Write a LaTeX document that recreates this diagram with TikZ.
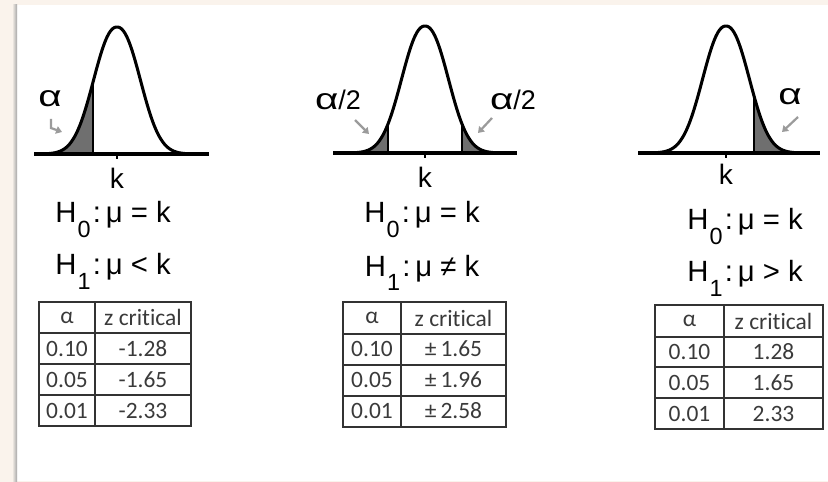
\documentclass[tikz,border=0pt]{standalone}
\usepackage{fontspec}
\usepackage{graphicx}
\setmainfont{Liberation Sans}
\newfontfamily\tabfont[Ligatures=CommonOff]{Carlito}
\usetikzlibrary{arrows.meta}

\definecolor{paper}{HTML}{FAF3EC}
\definecolor{tailfill}{HTML}{6F6F6F}
\definecolor{arrowgray}{HTML}{9B9B9B}
\definecolor{rulegray}{HTML}{333333}
\definecolor{ink}{HTML}{3A3A3A}

% height of the bell at #1
\newcommand{\bellh}[1]{-127*exp(-(((abs(#1)+0.01)/31)^2.2))}
\newcommand{\hsub}[1]{\kern1pt\raisebox{-12pt}{\fontsize{20}{20}\selectfont #1}\kern2pt}
\newcommand{\wide}[1]{\scalebox{1.5}[1.1]{#1}}
\newcommand{\hyptext}[1]{H\hsub{#1}:\hspace{4pt}μ\hspace{7pt}}

\begin{document}
\begin{tikzpicture}[
            x=0.03cm, y=-0.03cm,
            axis/.style={
                line width=2.6pt
            },
            bell/.style={
                line width=2.6pt, line join=round
            },
            tail/.style={
                fill=tailfill
            },
            cutline/.style={
                line width=1.9pt
            },
            hint/.style={
                arrowgray, line width=1.9pt, -{Triangle[length=5pt,width=6.5pt]}
            },
            lbl/.style={
                font=\fontsize{24}{26}\selectfont, inner sep=0pt
            },
            greek/.style={
                font=\fontsize{23}{25}\selectfont, inner sep=0pt
            },
            hyp/.style={
                font=\fontsize{25}{27}\selectfont, inner sep=0pt, anchor=base
            },
            cell/.style={
                font=\tabfont\fontsize{20}{22}\selectfont, text=ink, inner sep=0pt
            },
            tabline/.style={
                rulegray, line width=1.3pt
            }
        ]
        \useasboundingbox (0,0) rectangle (828,482);
        \fill[paper] (0,0) rectangle (828,482);
        \fill[white] (17,5) rectangle (828,481);
        \shade[left color=paper, right color=black!35] (12,5) rectangle (17,481);

        % one-sided, lower tail
        \begin{scope}[shift={(117,154)}]
            \fill[tail] plot[domain=-80:-24, samples=40] (\x, {\bellh{\x}}) -- (-24,0) -- cycle;
            \draw[axis] (-83,0) -- (92,0);
            \draw[bell] plot[domain=-80:80, samples=90, smooth] (\x, {\bellh{\x}});
            \draw[cutline] (-24,0) -- (-24,{\bellh{-24}});
            \draw[line width=1pt] (0,0) -- (0,5);
            \node[lbl] (kl) at (0,24) {k};
            \node[greek] (al) at (-67,-55) {\wide{α}};
            \draw[hint] (-66,-35) -- (-66,-26) -- (-55,-22);
            \node[hyp] (h0l) at (-4,69) {\hyptext{0}= k};
            \node[hyp] (h1l) at (-4,121) {\hyptext{1}< k};

            \draw[tabline] (-78,148) rectangle (74,272);
            \draw[tabline] (-22,148) -- (-22,272);
            \foreach \y in {179,210,241}
                \draw[tabline] (-78,\y) -- (74,\y);
            \node[cell] (lha) at (-50,163.5) {α};
            \node[cell] (lhz) at (26,163.5) {z critical};
            \foreach \a/\z [count=\i] in {0.10/-1.28, 0.05/-1.65, 0.01/-2.33} {
                \node[cell] (la\i) at (-50,{163.5+31*\i}) {\a};
                \node[cell] (lz\i) at (26,{163.5+31*\i}) {\z};
            }
        \end{scope}

        % two-sided
        \begin{scope}[shift={(425,153)}]
            \fill[tail] plot[domain=-80:-37, samples=30] (\x, {\bellh{\x}}) -- (-37,0) -- cycle;
            \fill[tail] plot[domain=37:80, samples=30] (\x, {\bellh{\x}}) -- (80,0) -- (37,0) -- cycle;
            \draw[axis] (-92,0) -- (92,0);
            \draw[bell] plot[domain=-80:80, samples=90, smooth] (\x, {\bellh{\x}});
            \draw[cutline] (-37,0) -- (-37,{\bellh{-37}});
            \draw[cutline] (37,0) -- (37,{\bellh{37}});
            \draw[line width=1pt] (0,0) -- (0,5);
            \node[lbl] (km) at (0,24) {k};
            \node[greek] (aml) at (-87,-53) {\wide{α}/2};
            \node[greek] (amr) at (88,-53) {\wide{α}/2};
            \draw[hint] (-70,-33) -- (-56,-19);
            \draw[hint] (67,-35) -- (53,-20);
            \node[hyp] (h0m) at (-3,70) {\hyptext{0}= k};
            \node[hyp] (h1m) at (-3,123) {\hyptext{1}≠ k};

            \draw[tabline] (-82,149) rectangle (81,274);
            \draw[tabline] (-24,149) -- (-24,274);
            \foreach \y in {181,212,243}
                \draw[tabline] (-82,\y) -- (81,\y);
            \node[cell] (mha) at (-53,165) {α};
            \node[cell] (mhz) at (28.5,165) {z critical};
            \foreach \a/\z [count=\i] in {0.10/1.65, 0.05/1.96, 0.01/2.58} {
                \node[cell] (ma\i) at (-53,{165+31*\i}) {\a};
                \node[cell] (mz\i) at (28.5,{165+31*\i}) {±\,\z};
            }
        \end{scope}

        % one-sided, upper tail
        \begin{scope}[shift={(726,153)}]
            \fill[tail] plot[domain=28:80, samples=40] (\x, {\bellh{\x}}) -- (80,0) -- (28,0) -- cycle;
            \draw[axis] (-88,0) -- (94,0);
            \draw[bell] plot[domain=-80:80, samples=90, smooth] (\x, {\bellh{\x}});
            \draw[cutline] (28,0) -- (28,{\bellh{28}});
            \draw[line width=1pt] (0,0) -- (0,5);
            \node[lbl] (kr) at (0,21) {k};
            \node[greek] (ar) at (64,-56) {\wide{α}};
            \draw[hint] (72,-36) -- (56,-21);
            \node[hyp] (h0r) at (19,77) {\hyptext{0}= k};
            \node[hyp] (h1r) at (19,129) {\hyptext{1}> k};

            \draw[tabline] (-71,152) rectangle (97,276);
            \draw[tabline] (-2,152) -- (-2,276);
            \foreach \y in {184,214,245}
                \draw[tabline] (-71,\y) -- (97,\y);
            \node[cell] (rha) at (-36.5,168) {α};
            \node[cell] (rhz) at (47.5,168) {z critical};
            \foreach \a/\z [count=\i] in {0.10/1.28, 0.05/1.65, 0.01/2.33} {
                \node[cell] (ra\i) at (-36.5,{168+31*\i}) {\a};
                \node[cell] (rz\i) at (47.5,{168+31*\i}) {\z};
            }
        \end{scope}
        \end{tikzpicture}
\end{document}
